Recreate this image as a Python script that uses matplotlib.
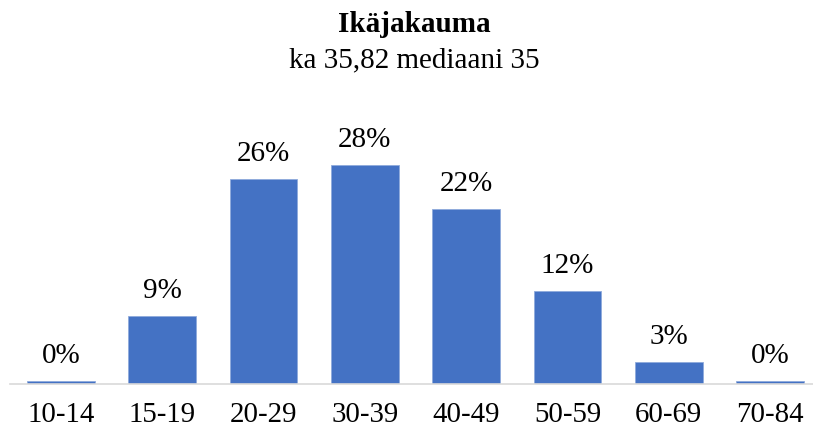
import matplotlib
matplotlib.use("Agg")
import matplotlib.pyplot as plt

categories = ["10-14", "15-19", "20-29", "30-39", "40-49", "50-59", "60-69", "70-84"]
values = [0.4, 8.7, 26.2, 28.0, 22.3, 11.9, 2.8, 0.4]
labels = ["0%", "9%", "26%", "28%", "22%", "12%", "3%", "0%"]
title = "Ikäjakauma"
subtitle = "ka 35,82 mediaani 35"

plt.rcParams["font.family"] = ["Liberation Serif", "DejaVu Serif"]

W, H = 813, 429
fig = plt.figure(figsize=(W / 100, H / 100), dpi=100)
base_px = 383.7
top_px = 140.0
ax = fig.add_axes([10 / W, (H - base_px) / H, (813 - 10) / W, (base_px - top_px) / H])

x = list(range(len(categories)))
ax.bar(x, values, width=0.67, color="#4472C4", edgecolor="#8FAADC", linewidth=0.6, zorder=2)
ymax = 28.0 * (base_px - top_px) / 219.2
ax.set_ylim(0, ymax)
ax.set_xlim(-0.503, 7.424)

for xi, v, lab in zip(x, values, labels):
    ax.annotate(lab, (xi, v), xytext=(0, 12.7), textcoords="offset points",
                ha="center", va="baseline", fontsize=21, color="black")

ax.set_xticks(x)
ax.set_xticklabels(categories, fontsize=20.8)
ax.tick_params(axis="x", length=0, pad=13.5)
ax.set_yticks([])
for s in ["top", "right", "left"]:
    ax.spines[s].set_visible(False)
ax.spines["bottom"].set_color("#D9D9D9")
ax.spines["bottom"].set_linewidth(1.2)

fig.text(414 / W, 1 - 32 / H, title, ha="center", va="baseline", fontsize=21, fontweight="bold")
fig.text(414 / W, 1 - 67 / H, subtitle, ha="center", va="baseline", fontsize=21)

fig.savefig("out.png", dpi=100)
